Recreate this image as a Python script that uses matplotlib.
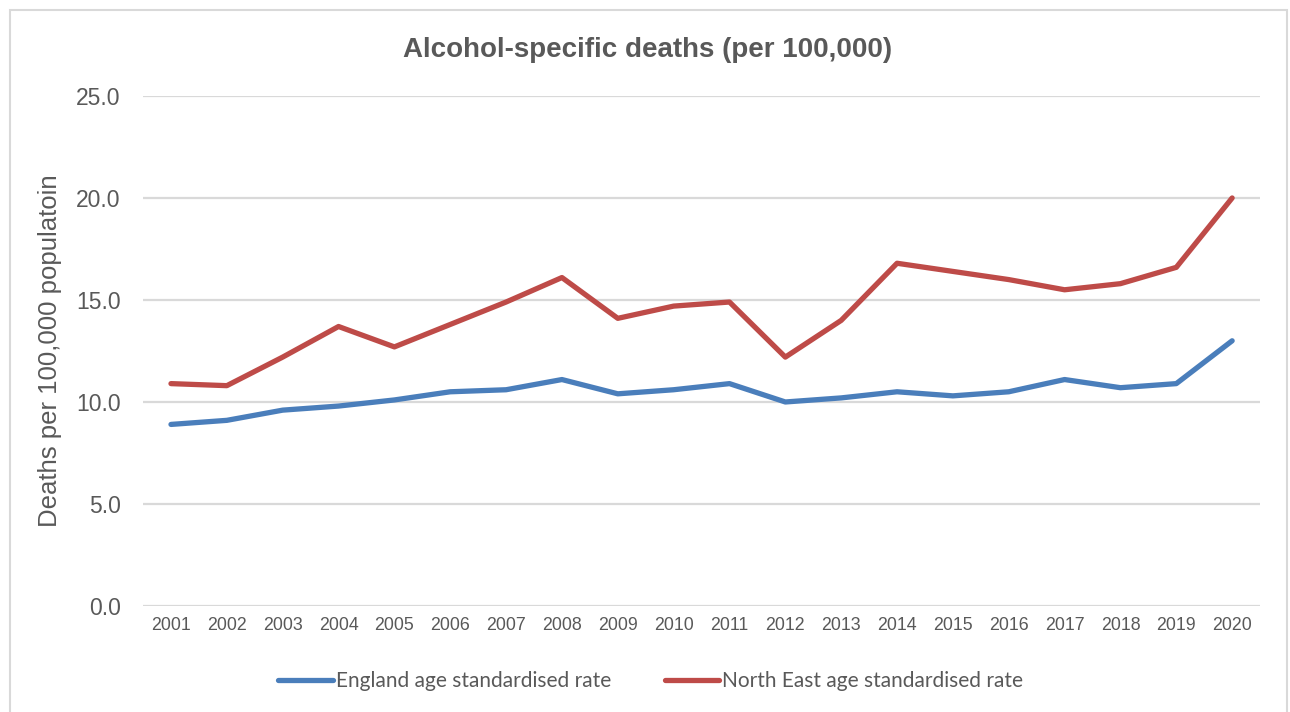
import matplotlib.pyplot as plt
from matplotlib.patches import Rectangle

years = list(range(2001, 2021))
england = [8.9, 9.1, 9.6, 9.8, 10.1, 10.5, 10.6, 11.1, 10.4, 10.6,
           10.9, 10.0, 10.2, 10.5, 10.3, 10.5, 11.1, 10.7, 10.9, 13.0]
north_east = [10.9, 10.8, 12.2, 13.7, 12.7, 13.8, 14.9, 16.1, 14.1, 14.7,
              14.9, 12.2, 14.0, 16.8, 16.4, 16.0, 15.5, 15.8, 16.6, 20.0]
yticks = [0, 5, 10, 15, 20, 25]

text_grey = '#595959'
blue = '#4a7ebb'
red = '#be4b48'

fig = plt.figure(figsize=(12.9, 7.12), dpi=100)
ax = fig.add_axes([0.1109, 0.1489, 0.8659, 0.7163])

# outer chart frame
fig.patches.append(Rectangle((10 / 1290, -0.01), 1277 / 1290, 1 - 10 / 712 + 0.01,
                             transform=fig.transFigure, fill=False,
                             edgecolor='#d9d9d9', linewidth=1.5))

ax.plot(years, england, color=blue, linewidth=3.8, solid_capstyle='round',
        label='England age standardised rate')
ax.plot(years, north_east, color=red, linewidth=3.8, solid_capstyle='round',
        label='North East age standardised rate')

ax.set_xlim(2000.5, 2020.5)
ax.set_ylim(0, 25)
ax.set_xticks(years)
ax.set_xticklabels([str(y) for y in years], family='Liberation Sans',
                   fontsize=12.8, color=text_grey)
ax.set_yticks(yticks)
ax.set_yticklabels(['%.1f' % v for v in yticks], family='Liberation Sans',
                   fontsize=16.5, color=text_grey)
ax.tick_params(length=0)
ax.tick_params(axis='x', pad=8)
ax.tick_params(axis='y', pad=16)
ax.grid(axis='y', color='#d9d9d9', linewidth=1.6)
ax.set_axisbelow(True)
for s in ax.spines.values():
    s.set_visible(False)

ax.set_ylabel('Deaths per 100,000 populatoin', family='Liberation Sans',
              fontsize=18.5, color=text_grey, labelpad=10)
fig.text(648 / 1290, 1 - 50 / 712, 'Alcohol-specific deaths (per 100,000)',
         family='Liberation Sans', fontweight='bold', fontsize=20,
         color=text_grey, ha='center', va='center')

leg = ax.legend(loc='center', bbox_to_anchor=(651 / 1290, 1 - 681 / 712),
                bbox_transform=fig.transFigure, ncol=2,
                frameon=False, prop={'family': 'Lato', 'size': 15},
                handlelength=2.6, handletextpad=0.15, columnspacing=2.6)
for t in leg.get_texts():
    t.set_color(text_grey)

fig.savefig('out.png', dpi=100)
